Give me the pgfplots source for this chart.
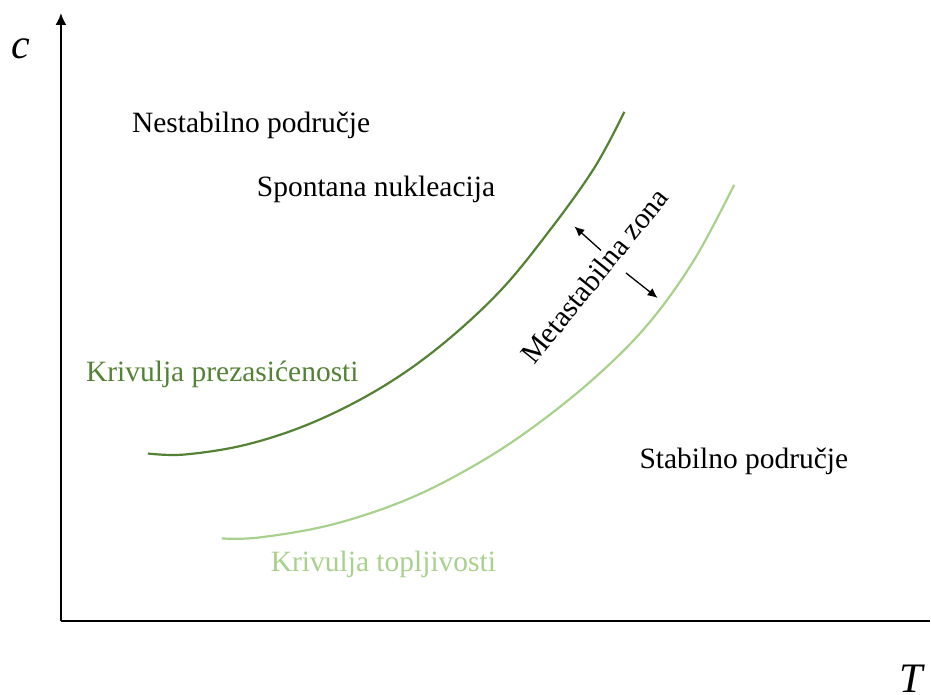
\documentclass[border=0pt]{standalone}
\usepackage{fontspec}
\setmainfont{Liberation Serif}
\usepackage{pgfplots}
\pgfplotsset{compat=1.18}
\usetikzlibrary{arrows.meta}
\definecolor{darkg}{HTML}{548235}
\definecolor{lightg}{HTML}{A9D18E}
\begin{document}
\begin{tikzpicture}
\begin{axis}[
  scale only axis,
  width=870pt, height=609pt,
  xmin=61, xmax=931, ymin=73, ymax=682,
  axis lines=left,
  axis line style={line width=2pt},
  x axis line style={-},
  y axis line style={-{Latex[length=12pt,width=11pt]}},
  ticks=none,
  clip=false,
]
% invisible extent of the picture
\addplot[draw=none] coordinates {(0,0) (931,695)};
% supersaturation curve
\addplot[darkg, line width=2.2pt, smooth, tension=0.6] coordinates {
(148,241) (185,240) (247,250) (313,272) (380,306) (440,348)
(500,403) (550,464) (595,527) (625,583)};
% solubility curve
\addplot[lightg, line width=2.2pt, smooth, tension=0.6] coordinates {
(222,156) (260,157) (333,170) (410,196) (480,232) (540,272)
(600,321) (650,372) (695,435) (735,510)};
% arrows of the metastable zone
\addplot[black, line width=1.3pt, -{Latex[length=10pt,width=9pt]}] coordinates {(601.7,444.3) (575,468.3)};
\addplot[black, line width=1.3pt, -{Latex[length=10pt,width=9pt]}] coordinates {(626.7,421.7) (658.3,396.7)};
% texts
\begin{scope}[every node/.style={inner sep=0pt, font=\fontsize{29.5}{35}\selectfont}]
\node[anchor=base west] at (axis cs:132,562) {Nestabilno područje};
\node[anchor=base west] at (axis cs:257,498) {Spontana nukleacija};
\node[anchor=base west, text=darkg] at (axis cs:86,313) {Krivulja prezasićenosti};
\node[anchor=base west] at (axis cs:640,226) {Stabilno područje};
\node[anchor=base west, text=lightg] at (axis cs:271,123) {Krivulja topljivosti};
\node[rotate=51, anchor=center] at (axis cs:595,419) {Metastabilna zona};
\node[anchor=base west, font=\fontsize{42}{48}\selectfont\itshape] at (axis cs:11,636) {c};
\node[anchor=base west, font=\fontsize{42}{48}\selectfont\itshape] at (axis cs:900,2) {T};
\end{scope}
\end{axis}
\end{tikzpicture}
\end{document}
